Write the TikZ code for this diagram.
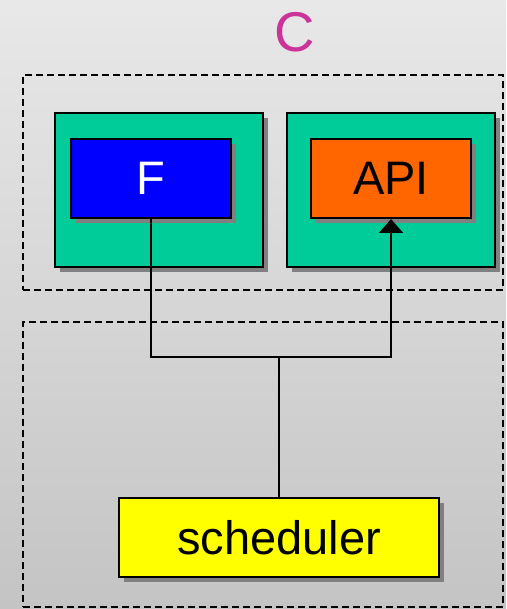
\documentclass[tikz,border=0pt]{standalone}
\usepackage{fontspec}
\setmainfont{Liberation Sans}
\usetikzlibrary{shadows,arrows.meta}
\definecolor{bgtop}{HTML}{E8E8E8}
\definecolor{bgbot}{HTML}{C4C4C4}
\definecolor{boxgreen}{HTML}{00CC99}
\definecolor{boxblue}{HTML}{0000FF}
\definecolor{boxorange}{HTML}{FF6600}
\definecolor{boxyellow}{HTML}{FFFF00}
\definecolor{shadowgray}{HTML}{808080}
\definecolor{titlemag}{HTML}{CC3399}
\tikzset{
  sh/.style={drop shadow={shadow xshift=5pt, shadow yshift=-5pt, fill=shadowgray, opacity=1}},
  box/.style={draw=black, line width=2pt, sh, inner sep=0pt},
  container/.style={box, fill=boxgreen, minimum width=208pt, minimum height=154pt},
  inner/.style={box, minimum width=160pt, minimum height=79pt, font=\fontsize{47}{50}\selectfont},
  group/.style={draw=black, line width=1.5pt, dash pattern=on 7pt off 4pt, inner sep=0pt},
  conn/.style={draw=black, line width=1.6pt},
}
\begin{document}
\begin{tikzpicture}[x=1pt,y=-1pt]
\useasboundingbox (0,0) rectangle (506,609);
\shade[top color=bgtop, bottom color=bgbot] (0,0) rectangle (506,609);
\node[text=titlemag, font=\fontsize{56}{60}\selectfont] (title) at (295,32) {C};
\node[group, minimum width=480pt, minimum height=215pt] (top) at (263,182.5) {};
\node[group, minimum width=480pt, minimum height=285pt] (bottom) at (263,464.5) {};
\node[container] (cl) at (159,190) {};
\node[container] (cr) at (391,190) {};
\node[inner, fill=boxblue, text=white] (f) at (151,178.5) {F};
\node[inner, fill=boxorange, text=black] (api) at (391,178.5) {API};
\node[box, fill=boxyellow, minimum width=320pt, minimum height=79pt, font=\fontsize{47}{50}\selectfont] (sched) at (279,537.5) {scheduler};
\coordinate (jl) at (151,357);
\coordinate (jr) at (391,357);
\coordinate (jm) at (279,357);
\draw[conn, -{Triangle[width=24pt,length=14pt]}] (f.south) -- (jl) -- (jr) -- (api.south);
\draw[conn] (jm) -- (sched.north);
\end{tikzpicture}
\end{document}
